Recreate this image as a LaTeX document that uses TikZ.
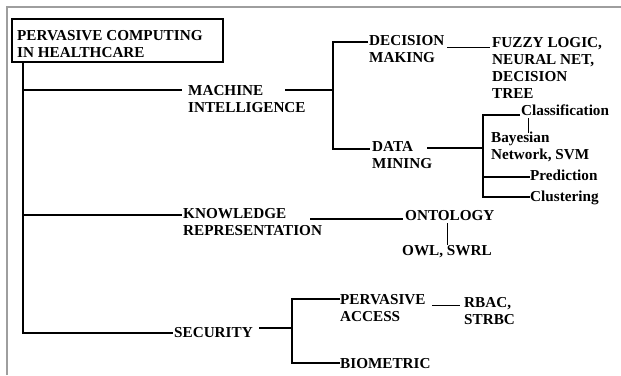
\documentclass[tikz,border=0pt]{standalone}
\usepackage{fontspec}
\setmainfont{Liberation Serif}
\begin{document}
\begin{tikzpicture}[x=1pt,y=-1pt,
  lbl/.style={anchor=north west, inner sep=0pt, align=left,
    font=\fontsize{15.2}{17}\selectfont\bfseries},
  thk/.style={line width=2.2pt, line join=miter},
  thn/.style={line width=0.9pt},
  frame/.style={line width=1.4pt, draw=black!38}]
\useasboundingbox (0,0) rectangle (621,375);
\draw[frame] (7,375) -- (7,7) -- (621,7);

% nodes
\node[draw, line width=2pt, minimum width=211pt, minimum height=43pt,
  anchor=north west, inner sep=0pt, outer sep=0pt] (rootbox) at (12,19) {};
\node[lbl] (root) at (17,30) {PERVASIVE COMPUTING\\IN HEALTHCARE};
\node[lbl] (mi) at (188,85) {MACHINE\\INTELLIGENCE};
\node[lbl] (dm) at (369,35) {DECISION\\MAKING};
\node[lbl] (fz) at (492,37) {FUZZY LOGIC,\\NEURAL NET,\\DECISION\\TREE};
\node[lbl] (dmin) at (372,141) {DATA\\MINING};
\node[lbl] (cls) at (521,105) {Classification};
\node[lbl] (bay) at (491,132) {Bayesian\\Network, SVM};
\node[lbl] (pred) at (530,170) {Prediction};
\node[lbl] (clu) at (530,191) {Clustering};
\node[lbl] (kr) at (183,208) {KNOWLEDGE\\REPRESENTATION};
\node[lbl] (ont) at (405,210) {ONTOLOGY};
\node[lbl] (owl) at (402,245) {OWL, SWRL};
\node[lbl] (sec) at (174,327) {SECURITY};
\node[lbl] (pa) at (340,294) {PERVASIVE\\ACCESS};
\node[lbl] (rb) at (464,297) {RBAC,\\STRBC};
\node[lbl] (bio) at (340,358) {BIOMETRIC};

% trunk
\coordinate (tr) at ([xshift=11pt]rootbox.south west);
\coordinate (mip) at ([shift={(-6,5)}]mi.north west);
\coordinate (krp) at ([shift={(-1,7)}]kr.north west);
\coordinate (secp) at ([shift={(-1,6)}]sec.north west);
\draw[thk] (tr) |- (secp);
\draw[thk] (tr |- mip) -- (mip);
\draw[thk] (tr |- krp) -- (krp);

% machine intelligence
\coordinate (mij) at (333,90);
\draw[thk] ([shift={(97,5)}]mi.north west) -- (mij);
\draw[thk] ([shift={(-1,7)}]dm.north west) -| ([yshift=-8pt]dmin.north west -| mij) -- ([shift={(-2,8)}]dmin.north west);
\draw[thn] ([shift={(78,12)}]dm.north west) -- ([shift={(-2,10)}]fz.north west);

% data mining
\coordinate (dj) at (483,148);
\draw[thk] ([shift={(55,7)}]dmin.north west) -- (dj);
\draw[thk] ([shift={(-1,10)}]cls.north west) -| ([yshift=-6pt]clu.north west -| dj) -- ([shift={(0,6)}]clu.north west);
\draw[thk] ([yshift=-7pt]pred.north west -| dj) -- ([shift={(0,7)}]pred.north west);
\draw[thn] ([shift={(7,13)}]cls.north west) -- ([shift={(37,1)}]bay.north west);

% knowledge representation
\draw[thk] ([shift={(127,11)}]kr.north west) -- ([shift={(-2,9)}]ont.north west);
\draw[thn] ([shift={(42,13)}]ont.north west) -- ([shift={(45,0)}]owl.north west);

% security
\coordinate (sj) at (292,328);
\draw[thk] ([shift={(85,1)}]sec.north west) -- ([xshift=-1pt]sj);
\draw[thk] ([shift={(0,5)}]pa.north west) -| ([yshift=-5pt]bio.north west -| sj) -- ([shift={(0,5)}]bio.north west);
\draw[thn] ([shift={(92,11)}]pa.north west) -- ([shift={(-4,8)}]rb.north west);
\end{tikzpicture}
\end{document}
